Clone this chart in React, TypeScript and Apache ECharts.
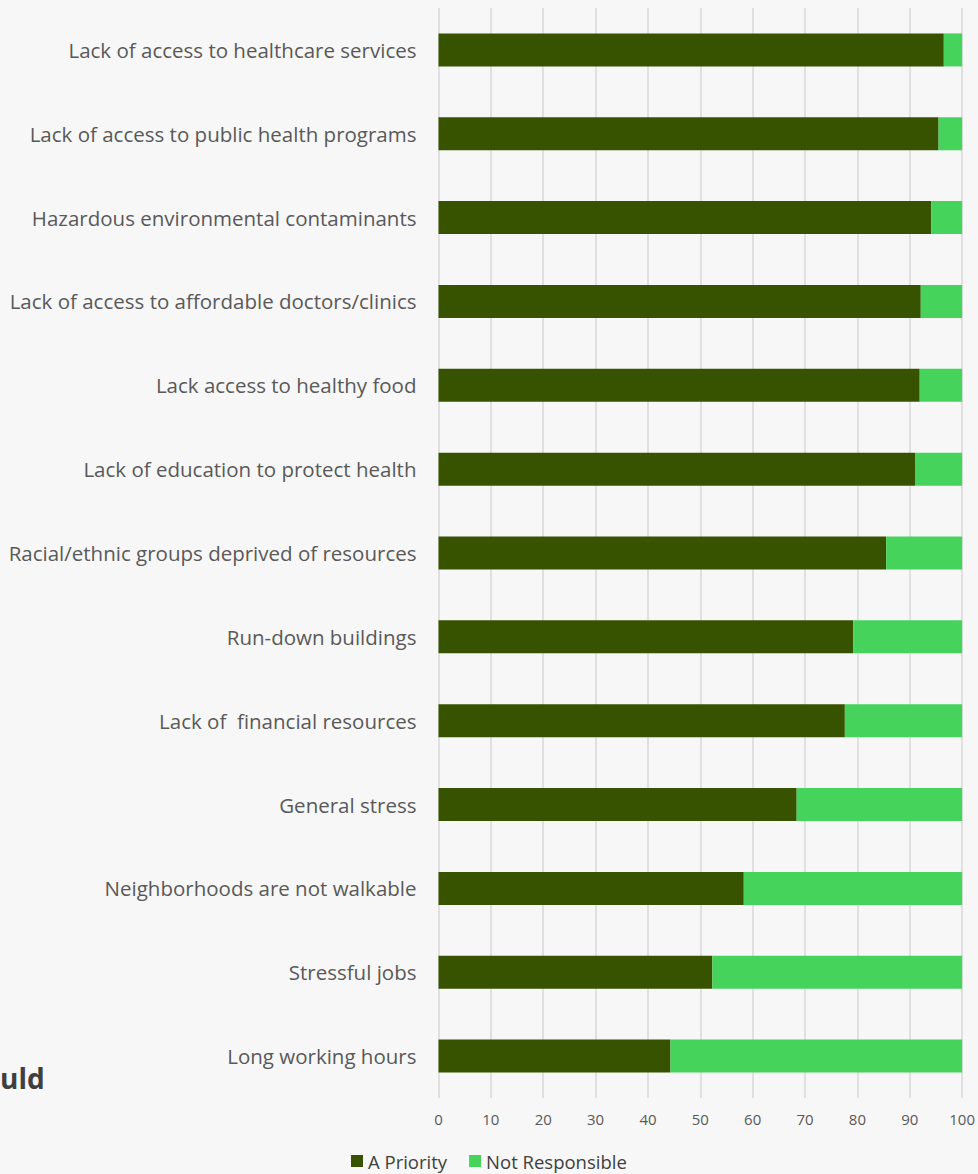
import React, { useEffect, useRef } from "react";
import * as echarts from "echarts";

const categories = [
  "Lack of access to healthcare services",
  "Lack of access to public health programs",
  "Hazardous environmental contaminants",
  "Lack of access to affordable doctors/clinics",
  "Lack access to healthy food",
  "Lack of education to protect health",
  "Racial/ethnic groups deprived of resources",
  "Run-down buildings",
  "Lack of  financial resources",
  "General stress",
  "Neighborhoods are not walkable",
  "Stressful jobs",
  "Long working hours",
];
const aPriority = [96.5, 95.5, 94.1, 92.1, 91.9, 91.0, 85.5, 79.2, 77.6, 68.4, 58.3, 52.3, 44.3];
const notResponsible = [3.5, 4.5, 5.9, 7.9, 8.1, 9.0, 14.5, 20.8, 22.4, 31.6, 41.7, 47.7, 55.7];
const seriesNames = ["A Priority", "Not Responsible"];
const xTicks = { min: 0, max: 100, interval: 10 };

const FONT = "'Open Sans', sans-serif";

export default function App() {
  const ref = useRef<HTMLDivElement>(null);
  useEffect(() => {
    document.body.style.margin = "0";
    const chart = echarts.init(ref.current!, null, { renderer: "svg" });
    chart.setOption({
      animation: false,
      backgroundColor: "#f7f7f7",
      textStyle: { fontFamily: FONT },
      grid: { left: 438.5, right: 15, top: 8, bottom: 76, containLabel: false },
      xAxis: {
        type: "value",
        min: xTicks.min,
        max: xTicks.max,
        interval: xTicks.interval,
        axisLine: { show: false },
        axisTick: { show: false },
        splitLine: { show: true, lineStyle: { color: "#d9d9d9", width: 1.5 } },
        axisLabel: { color: "#595959", fontSize: 15, margin: 13, fontFamily: FONT },
      },
      yAxis: {
        type: "category",
        inverse: true,
        data: categories,
        axisLine: { show: false },
        axisTick: { show: false },
        axisLabel: { color: "#595959", fontSize: 20.5, margin: 22, fontFamily: FONT },
      },
      legend: {
        left: 351,
        top: 1151,
        padding: 0,
        itemWidth: 12,
        itemHeight: 12,
        itemGap: 22,
        icon: "rect",
        textStyle: { color: "#404040", fontSize: 18.5, lineHeight: 20, fontFamily: FONT },
        data: seriesNames,
      },
      graphic: [
        {
          type: "text",
          left: 0,
          top: 1064,
          style: { text: "uld", fontSize: 28, fontWeight: "bold", fill: "#3f3f3f", fontFamily: FONT },
        },
      ],
      series: [
        {
          name: seriesNames[0],
          type: "bar",
          stack: "total",
          data: aPriority,
          barWidth: 33,
          itemStyle: { color: "#375300" },
        },
        {
          name: seriesNames[1],
          type: "bar",
          stack: "total",
          data: notResponsible,
          barWidth: 33,
          itemStyle: { color: "#45d35c" },
        },
      ],
    });
    return () => chart.dispose();
  }, []);
  return <div ref={ref} style={{ width: 978, height: 1174 }} />;
}
